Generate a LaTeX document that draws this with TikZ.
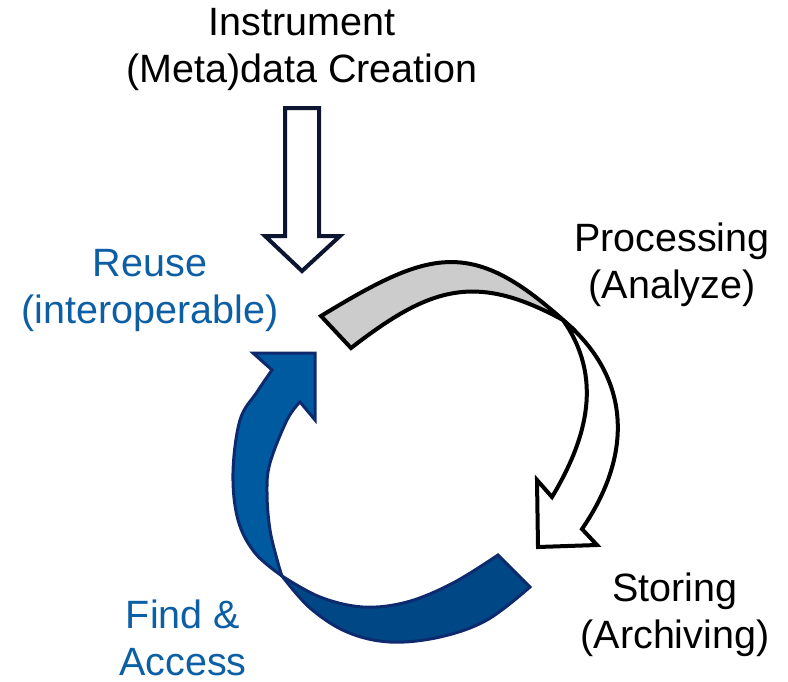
\documentclass[tikz,border=0pt]{standalone}
\usepackage{fontspec}
\setmainfont{Liberation Sans}
\definecolor{textblue}{RGB}{12,94,165}
\definecolor{bluefront}{RGB}{0,90,160}
\definecolor{blueback}{RGB}{0,72,133}
\definecolor{blueline}{RGB}{14,42,110}
\definecolor{bandgray}{RGB}{204,204,204}
\definecolor{instrline}{RGB}{12,22,48}
\tikzset{
  % anchor=base sits on the baseline of the last line
  lbl/.style={font=\fontsize{39.5}{47}\selectfont, align=center, inner sep=0pt, anchor=base},
  grayarrow/.style={draw=black, line width=4pt, line join=miter},
  bluearrow/.style={draw=blueline, line width=3pt, line join=miter},
  instrarrow/.style={draw=instrline, fill=white, line width=4pt, line join=miter},
}
\begin{document}
\begin{tikzpicture}[x=1pt, y=-1pt]
\useasboundingbox (0,0) rectangle (788,681);

% labels
\node[lbl] (instr) at (302,82) {Instrument\\(Meta)data Creation};
\node[lbl] (proc)  at (672,298) {Processing\\(Analyze)};
\node[lbl] (store) at (675,648) {Storing\\(Archiving)};
\node[lbl, text=textblue] (reuse) at (150,323) {Reuse\\(interoperable)};
\node[lbl, text=textblue] (find)  at (183,675) {Find \&\\Access};

% block arrow feeding data into the cycle
\draw[instrarrow] (285,108) -- (319,108) -- (319,236) -- (340,236) -- (302,271)
  -- (265,236) -- (285,236) -- cycle;

% processing arrow: front face with head
\coordinate (px) at (563,320);
\filldraw[grayarrow, fill=white]
  (px) .. controls (603,377) and (588,437) .. (552,497)
  -- (537,480) -- (538,547) -- (597,545) -- (582,529)
  .. controls (633,455) and (632,378) .. (px)
  -- cycle;
% processing arrow: back face of the twisted band
\filldraw[grayarrow, fill=bandgray]
  (321,316) .. controls (428,251) and (470,236) .. (px)
  .. controls (475,272) and (430,287) .. (351,348)
  -- cycle;

% find & access arrow: back face of the twisted band
\filldraw[bluearrow, fill=blueback]
  plot[smooth, tension=0.6] coordinates {(498,555) (453,583) (407,602) (363,607) (320,597) (282,576)}
  -- plot[smooth, tension=0.6] coordinates {(282,576) (310,608) (347,632) (390,642) (440,637) (487,620) (530,587)}
  -- cycle;
% find & access arrow: front face with head
\filldraw[bluearrow, fill=bluefront]
  plot[smooth, tension=0.6] coordinates {(282,576) (278,563) (270,530) (267,493) (270,463) (287,420) (300,402)}
  -- (315,420) -- (315,353) -- (253,353) -- (272,370)
  -- plot[smooth, tension=0.6] coordinates {(272,370) (257,392) (240,420) (233,473) (238,520) (255,553) (282,576)}
  -- cycle;
\end{tikzpicture}
\end{document}
